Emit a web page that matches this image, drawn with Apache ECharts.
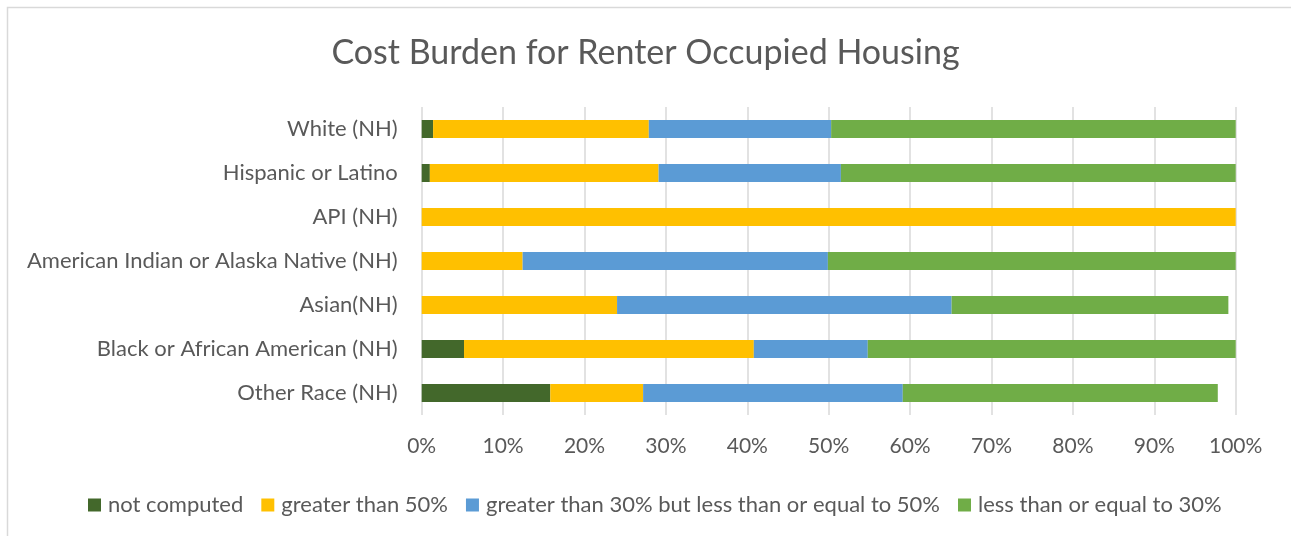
<!DOCTYPE html>
<html>
<head>
<meta charset="utf-8">
<script src="https://cdn.jsdelivr.net/npm/echarts@6/dist/echarts.min.js"></script>
<style>
  html, body { margin: 0; padding: 0; background: #fff; }
  #chart { width: 1291px; height: 536px; }
</style>
</head>
<body>
<div id="chart"></div>
<script>
// Categories listed bottom-to-top (category axis on y runs upward)
const categories = [
  'Other Race (NH)',
  'Black or African American (NH)',
  'Asian(NH)',
  'American Indian or Alaska Native (NH)',
  'API (NH)',
  'Hispanic or Latino',
  'White (NH)'
];

// Shares of renter households (%) per cost-burden group
const notComputed   = [15.8, 5.2, 0, 0, 0, 1.0, 1.4];
const over50        = [11.4, 35.6, 24.0, 12.4, 100, 28.1, 26.5];
const from30to50    = [31.9, 14.0, 41.1, 37.5, 0, 22.4, 22.4];
const upTo30        = [38.7, 45.2, 34.0, 50.1, 0, 48.5, 49.7];

const seriesNames = [
  'not computed',
  'greater than 50%',
  'greater than 30% but less than or equal to 50%',
  'less than or equal to 30%'
];
const seriesColors = ['#43682b', '#ffc000', '#5b9bd5', '#70ad47'];
const seriesData = [notComputed, over50, from30to50, upTo30];

const xTicks = [0, 10, 20, 30, 40, 50, 60, 70, 80, 90, 100];

const FONT = 'Lato, "Liberation Sans", sans-serif';
const TEXT = '#595959';

const chart = echarts.init(document.getElementById('chart'), null, { renderer: 'canvas' });

chart.setOption({
  animation: false,
  backgroundColor: '#ffffff',
  graphic: [{
    type: 'rect',
    shape: { x: 7.5, y: 7.5, width: 1400, height: 600 },
    style: { fill: 'none', stroke: '#d9d9d9', lineWidth: 1.5 },
    silent: true,
    z: -1
  }],
  title: {
    text: 'Cost Burden for Renter Occupied Housing',
    left: 'center',
    top: 31,
    textStyle: { fontFamily: FONT, fontSize: 34, fontWeight: 'normal', color: TEXT }
  },
  legend: {
    left: 88,
    top: 494,
    padding: 0,
    itemWidth: 13,
    itemHeight: 13,
    itemGap: 18,
    icon: 'rect',
    textStyle: { fontFamily: FONT, fontSize: 22, color: TEXT, padding: [0, 0, 0, 2] },
    data: seriesNames
  },
  grid: {
    left: 421.7,
    right: 55.3,
    top: 107,
    bottom: 121,
    containLabel: false
  },
  xAxis: {
    type: 'value',
    min: xTicks[0],
    max: xTicks[xTicks.length - 1],
    interval: 10,
    axisLine: { show: false },
    axisTick: { show: false },
    splitLine: { show: true, lineStyle: { color: '#d9d9d9', width: 1.5 } },
    axisLabel: {
      formatter: v => v + '%',
      fontFamily: FONT, fontSize: 21, color: TEXT, margin: 21
    }
  },
  yAxis: {
    type: 'category',
    data: categories,
    axisLine: { show: false },
    axisTick: { show: false },
    axisLabel: { fontFamily: FONT, fontSize: 22, color: TEXT, margin: 24 }
  },
  series: seriesNames.map((name, i) => ({
    name,
    type: 'bar',
    stack: 'total',
    barWidth: 18,
    data: seriesData[i],
    itemStyle: { color: seriesColors[i] },
    emphasis: { disabled: true }
  }))
});
</script>
</body>
</html>
